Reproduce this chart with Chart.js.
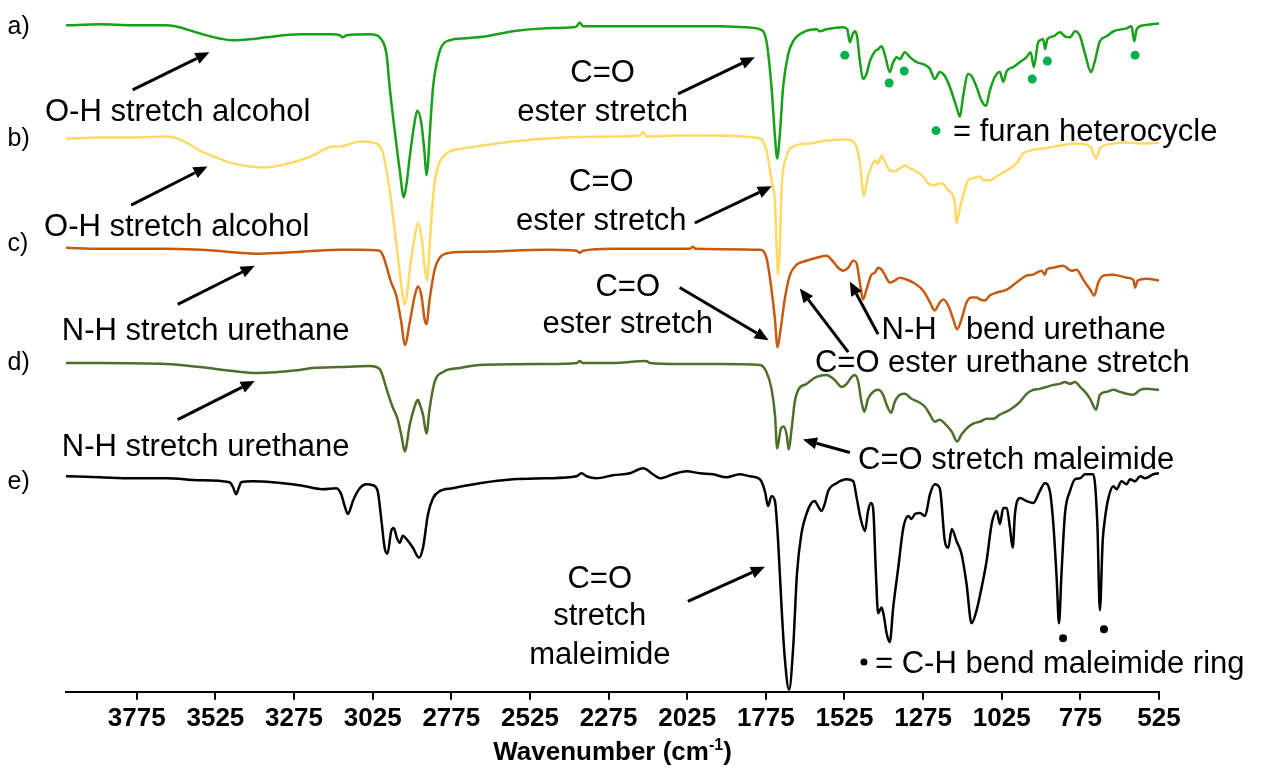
<!DOCTYPE html>
<html>
<head>
<meta charset="utf-8">
<script src="https://cdn.jsdelivr.net/npm/chart.js@4.4.0/dist/chart.umd.min.js"></script>
<style>
  html, body { margin: 0; padding: 0; background: #fff; }
  #wrap { width: 1270px; height: 774px; }
</style>
</head>
<body>
<div id="wrap"><canvas id="chart" width="1270" height="774"></canvas></div>
<script>
// FTIR spectra, stacked with offsets. x = wavenumber (cm-1), y = offset transmittance (a.u.)
const tickValues = [3775, 3525, 3275, 3025, 2775, 2525, 2275, 2025, 1775, 1525, 1275, 1025, 775, 525];

// a) furan alcohol (green)
const traceA = [[4000,671],[3893,672],[3788,671],[3680,671],[3639,669],[3597,665],[3543,660],[3470,656],[3416,657],[3362,659],
  [3257,662],[3152,662],[3130,661],[3120,659],[3108,661],[3035,662],[3012,661],[3003,659],[2981,642],[2971,609],
  [2955,565],[2939,525],[2926,498],[2917,512],[2907,539],[2891,575],[2883,585],[2870,572],[2860,542],[2854,520],
  [2849,532],[2844,559],[2833,609],[2822,632],[2807,649],[2780,656],[2727,658],[2663,660],[2580,665],[2473,668],
  [2388,669],[2376,670],[2367,674],[2356,670],[2262,670],[2144,670],[2049,670],[1921,670],[1836,669],[1794,667],
  [1773,655],[1757,609],[1746,559],[1739,537],[1731,559],[1720,609],[1704,642],[1688,655],[1656,664],[1614,667],
  [1603,665],[1582,667],[1529,669],[1516,667],[1508,654],[1499,662],[1492,665],[1485,660],[1476,635],[1466,617],
  [1455,622],[1444,635],[1428,645],[1418,647],[1407,650],[1397,642],[1381,624],[1370,634],[1359,639],[1349,637],
  [1333,644],[1317,639],[1296,634],[1275,632],[1253,627],[1238,617],[1222,624],[1206,620],[1190,609],[1169,589],
  [1158,579],[1148,599],[1132,622],[1121,620],[1105,609],[1089,595],[1075,590],[1063,605],[1047,619],[1031,624],
  [1020,614],[1009,625],[988,629],[967,634],[946,639],[933,644],[923,629],[909,654],[893,657],[887,647],
  [880,657],[861,660],[840,664],[824,660],[808,659],[792,665],[776,660],[760,642],[741,624],[729,635],
  [713,655],[691,660],[670,665],[628,668],[612,670],[604,655],[596,667],[575,671],[525,673]];

// b) (yellow)
const traceB = [[4000,557],[3893,558],[3788,558],[3681,559],[3629,555],[3575,545],[3522,538],[3469,532],[3416,529],[3363,528],
  [3321,530],[3257,535],[3215,540],[3151,549],[3130,549],[3066,554],[3013,552],[2992,542],[2971,505],[2955,465],
  [2945,439],[2934,409],[2923,390],[2915,402],[2907,425],[2891,459],[2881,472],[2870,459],[2860,429],[2852,414],
  [2842,459],[2831,505],[2817,529],[2791,542],[2738,547],[2632,552],[2473,557],[2261,559],[2176,560],[2165,564],
  [2155,559],[2049,560],[1943,560],[1794,557],[1773,545],[1757,515],[1746,492],[1740,442],[1736,420],[1731,442],
  [1725,505],[1709,539],[1688,549],[1635,552],[1582,555],[1518,556],[1487,549],[1476,532],[1463,499],[1453,515],
  [1439,529],[1428,535],[1418,532],[1407,540],[1397,534],[1381,525],[1365,524],[1349,527],[1333,530],[1317,527],
  [1296,524],[1275,519],[1259,512],[1243,510],[1216,512],[1195,505],[1174,492],[1169,472],[1158,487],[1148,499],
  [1132,515],[1116,517],[1094,519],[1084,515],[1063,515],[1041,519],[1009,525],[978,532],[957,542],[935,545],
  [893,547],[840,550],[787,552],[744,549],[725,537],[713,547],[670,552],[628,553],[575,552],[525,553]];

// c) (orange)
const traceC = [[4000,447],[3893,446],[3681,446],[3522,444],[3448,442],[3395,441],[3310,442],[3130,445],[3066,445],[3003,444],
  [2992,439],[2966,412],[2950,399],[2934,372],[2923,349],[2907,372],[2891,399],[2881,408],[2870,399],[2860,375],
  [2854,370],[2844,395],[2828,425],[2812,437],[2780,442],[2685,443],[2473,445],[2376,444],[2367,442],[2357,444],
  [2262,446],[2144,446],[2017,446],[2007,448],[1998,446],[1794,445],[1773,437],[1757,405],[1746,375],[1738,347],
  [1728,365],[1715,395],[1699,419],[1677,430],[1646,434],[1614,437],[1582,439],[1566,435],[1545,427],[1529,424],
  [1513,427],[1497,434],[1487,432],[1476,412],[1466,395],[1455,405],[1439,420],[1428,422],[1418,427],[1407,425],
  [1397,420],[1381,412],[1365,414],[1349,417],[1327,415],[1306,412],[1275,404],[1253,392],[1238,384],[1222,392],
  [1211,395],[1195,389],[1179,375],[1167,365],[1153,375],[1137,392],[1121,397],[1105,397],[1094,395],[1078,394],
  [1063,399],[1041,402],[1009,405],[978,412],[946,419],[925,420],[914,422],[898,424],[888,420],[882,425],
  [861,427],[830,429],[803,424],[787,425],[766,415],[744,405],[731,399],[718,412],[702,419],[670,420],
  [628,417],[607,415],[601,407],[593,414],[564,416],[525,414]];

// d) (dark green)
const traceD = [[4000,331],[3893,331],[3681,330],[3575,327],[3469,323],[3395,321],[3257,324],[3215,326],[3130,327],[3035,328],
  [3003,325],[2978,302],[2962,287],[2946,275],[2933,257],[2923,242],[2907,269],[2886,292],[2881,294],[2876,290],
  [2865,279],[2854,260],[2844,285],[2828,312],[2801,322],[2748,326],[2685,329],[2473,330],[2376,331],[2367,333],
  [2357,331],[2261,331],[2155,333],[2144,331],[2049,330],[1921,330],[1794,329],[1773,322],[1757,305],[1746,279],
  [1739,245],[1728,264],[1718,267],[1709,259],[1702,244],[1693,265],[1683,292],[1672,304],[1646,310],[1614,317],
  [1582,319],[1556,314],[1534,307],[1518,310],[1502,317],[1492,319],[1481,312],[1471,292],[1462,282],[1450,295],
  [1434,302],[1418,304],[1402,299],[1391,289],[1377,281],[1365,292],[1349,299],[1333,300],[1312,295],[1291,292],
  [1269,287],[1253,279],[1238,272],[1222,274],[1206,270],[1184,262],[1167,252],[1153,259],[1137,265],[1116,270],
  [1094,272],[1073,275],[1052,275],[1031,279],[999,284],[967,292],[946,300],[925,304],[904,305],[882,307],
  [861,309],[840,310],[824,312],[808,310],[792,312],[776,307],[760,302],[744,295],[725,284],[713,299],
  [691,302],[670,304],[649,302],[628,300],[607,299],[585,304],[564,305],[525,304]];

// e) maleimide (black)
const traceE = [[4000,217],[3893,216],[3788,215],[3681,215],[3575,213],[3480,211],[3469,206],[3459,199],[3450,206],[3443,211],
  [3406,212],[3257,208],[3184,204],[3141,205],[3125,199],[3114,187],[3104,179],[3095,185],[3088,192],[3066,205],
  [3045,209],[3024,208],[3009,202],[2997,172],[2987,145],[2978,139],[2966,162],[2958,165],[2948,155],[2939,150],
  [2929,157],[2918,154],[2897,145],[2878,135],[2865,145],[2849,179],[2833,195],[2812,202],[2770,205],[2685,210],
  [2579,214],[2473,215],[2377,217],[2361,220],[2345,217],[2314,215],[2261,218],[2207,220],[2165,225],[2134,219],
  [2112,215],[2070,219],[2027,222],[1985,220],[1943,219],[1900,216],[1858,219],[1826,217],[1794,214],[1778,202],
  [1768,187],[1757,197],[1746,192],[1736,152],[1725,85],[1715,35],[1701,2],[1688,45],[1676,119],[1662,159],
  [1646,179],[1630,190],[1619,192],[1609,187],[1598,182],[1587,190],[1577,202],[1550,210],[1518,214],[1497,212],
  [1486,195],[1474,175],[1460,162],[1450,182],[1441,190],[1434,185],[1425,119],[1418,79],[1407,85],[1399,75],
  [1391,59],[1381,50],[1370,85],[1354,125],[1338,165],[1322,177],[1312,174],[1301,179],[1285,180],[1269,177],
  [1253,199],[1238,209],[1222,205],[1206,152],[1195,145],[1184,164],[1169,152],[1153,139],[1137,109],[1121,69],
  [1105,82],[1089,105],[1073,132],[1057,169],[1041,182],[1031,169],[1020,185],[1009,185],[999,165],[990,145],
  [983,179],[967,195],[946,192],[925,190],[904,202],[888,210],[872,202],[861,169],[850,112],[843,69],
  [835,119],[824,179],[808,202],[792,214],[776,215],[760,219],[734,219],[721,169],[713,82],[704,152],
  [697,174],[686,195],[670,207],[660,204],[644,212],[628,209],[617,214],[601,212],[585,217],[569,215],
  [543,219],[525,220]];

// marker dots
const furanPeaks = [[1524,641],[1383,613],[1335,625],[928,617],[880,635],[601,641]];
const maleimideRingPeaks = [[830,54],[700,63]];

// annotations (placed in data coordinates)
const FONT = '"Liberation Sans", Arial, sans-serif';
const noteTexts = [
  { text: 'a)', x: 4186, y: 662, size: 25 },
  { text: 'b)', x: 4186, y: 550, size: 25 },
  { text: 'c)', x: 4186, y: 444, size: 25 },
  { text: 'd)', x: 4186, y: 324, size: 25 },
  { text: 'e)', x: 4186, y: 204, size: 25 },
  { text: 'O-H stretch alcohol', x: 3645, y: 575, align: 'center' },
  { text: 'O-H stretch alcohol', x: 3648, y: 459, align: 'center' },
  { text: 'N-H stretch urethane', x: 3556, y: 354, align: 'center' },
  { text: 'N-H stretch urethane', x: 3556, y: 237, align: 'center' },
  { text: 'C=O', x: 2294, y: 614, align: 'center' },
  { text: 'ester stretch', x: 2294, y: 575, align: 'center' },
  { text: 'C=O', x: 2298, y: 504, align: 'center' },
  { text: 'ester stretch', x: 2298, y: 465, align: 'center' },
  { text: 'C=O', x: 2214, y: 399, align: 'center' },
  { text: 'ester stretch', x: 2214, y: 361, align: 'center' },
  { text: 'C=O ester urethane stretch', x: 1619, y: 322 },
  { text: 'N-H', x: 1407, y: 355 },
  { text: 'bend urethane', x: 1139, y: 355 },
  { text: 'C=O stretch maleimide', x: 1482, y: 224 },
  { text: 'C=O', x: 2303, y: 105, align: 'center' },
  { text: 'stretch', x: 2303, y: 67, align: 'center' },
  { text: 'maleimide', x: 2303, y: 28, align: 'center' },
  { text: '= furan heterocycle', x: 1180, y: 555 },
  { text: '= C-H bend maleimide ring', x: 1428, y: 19 }
];
const noteArrows = [
  [[3788,606],[3544,644]],
  [[3793,490],[3550,529]],
  [[3645,390],[3400,429]],
  [[3645,274],[3400,313]],
  [[2054,602],[1810,639]],
  [[2001,472],[1756,509]],
  [[2049,407],[1766,354]],
  [[1513,342],[1667,406]],
  [[1418,360],[1508,413]],
  [[1508,241],[1657,254]],
  [[2023,91],[1778,126]]
];
const keyDots = [
  { x: 1234, y: 565, r: 4.5, color: '#00b050' },
  { x: 1463, y: 30, r: 3.5, color: '#000' }
];

function drawArrow(ctx, x1, y1, x2, y2) {
  const ang = Math.atan2(y2 - y1, x2 - x1);
  const len = 14, half = 6;
  const bx = x2 - len * Math.cos(ang), by = y2 - len * Math.sin(ang);
  ctx.beginPath();
  ctx.moveTo(x1, y1);
  ctx.lineTo(bx, by);
  ctx.lineWidth = 3;
  ctx.strokeStyle = '#000';
  ctx.stroke();
  ctx.beginPath();
  ctx.moveTo(x2, y2);
  ctx.lineTo(bx + half * Math.sin(ang), by - half * Math.cos(ang));
  ctx.lineTo(bx - half * Math.sin(ang), by + half * Math.cos(ang));
  ctx.closePath();
  ctx.fillStyle = '#000';
  ctx.fill();
}

const notesPlugin = {
  id: 'spectraNotes',
  afterDraw(chart) {
    const { ctx, chartArea } = chart;
    const sx = chart.scales.x, sy = chart.scales.y;
    ctx.save();
    ctx.textBaseline = 'alphabetic';
    ctx.fillStyle = '#000';
    noteTexts.forEach(t => {
      ctx.font = (t.size || 31) + 'px ' + FONT;
      ctx.textAlign = t.align || 'left';
      ctx.fillStyle = '#000';
      ctx.fillText(t.text, sx.getPixelForValue(t.x), sy.getPixelForValue(t.y));
    });
    noteArrows.forEach(a => drawArrow(ctx,
      sx.getPixelForValue(a[0][0]), sy.getPixelForValue(a[0][1]),
      sx.getPixelForValue(a[1][0]), sy.getPixelForValue(a[1][1])));
    keyDots.forEach(d => {
      ctx.beginPath();
      ctx.arc(sx.getPixelForValue(d.x), sy.getPixelForValue(d.y), d.r, 0, Math.PI * 2);
      ctx.fillStyle = d.color;
      ctx.fill();
    });
    // axis title with superscript
    const main = 'Wavenumber (cm', sup = '-1', tail = ')';
    ctx.fillStyle = '#000';
    ctx.textAlign = 'left';
    ctx.font = 'bold 26px ' + FONT;
    const w1 = ctx.measureText(main).width, w3 = ctx.measureText(tail).width;
    ctx.font = 'bold 16px ' + FONT;
    const w2 = ctx.measureText(sup).width;
    const cx = (chartArea.left + chartArea.right) / 2;
    let x0 = cx - (w1 + w2 + w3) / 2;
    const base = 760;
    ctx.font = 'bold 26px ' + FONT;
    ctx.fillText(main, x0, base);
    ctx.font = 'bold 16px ' + FONT;
    ctx.fillText(sup, x0 + w1, base - 10);
    ctx.font = 'bold 26px ' + FONT;
    ctx.fillText(tail, x0 + w1 + w2, base);
    ctx.restore();
  }
};

const toPoints = arr => arr.map(p => ({ x: p[0], y: p[1] }));
const lineSet = (label, arr, color) => ({
  type: 'line', label, data: toPoints(arr), borderColor: color, borderWidth: 2.5,
  pointRadius: 0, fill: false, cubicInterpolationMode: 'monotone'
});

new Chart(document.getElementById('chart').getContext('2d'), {
  data: {
    datasets: [
      lineSet('a', traceA, '#19a019'),
      lineSet('b', traceB, '#ffd966'),
      lineSet('c', traceC, '#c55a11'),
      lineSet('d', traceD, '#4e6e2b'),
      lineSet('e', traceE, '#000000'),
      { type: 'scatter', label: 'furan', data: toPoints(furanPeaks), pointRadius: 4.5,
        backgroundColor: '#00b050', borderWidth: 0 },
      { type: 'scatter', label: 'maleimide ring', data: toPoints(maleimideRingPeaks), pointRadius: 4,
        backgroundColor: '#000', borderWidth: 0 }
    ]
  },
  options: {
    responsive: false,
    animation: false,
    devicePixelRatio: 1,
    layout: { padding: { left: 66, right: 111, top: 0, bottom: 37 } },
    plugins: { legend: { display: false }, tooltip: { enabled: false } },
    scales: {
      x: {
        type: 'linear', reverse: true, min: 525, max: 4000,
        afterBuildTicks: axis => { axis.ticks = tickValues.map(v => ({ value: v })); },
        ticks: {
          autoSkip: false, maxRotation: 0, padding: 3, color: '#000',
          font: { family: FONT, size: 26, weight: 'bold' },
          callback: v => String(v)
        },
        grid: { drawOnChartArea: false, drawTicks: true, tickLength: 8, color: '#000', lineWidth: 2 },
        border: { display: true, color: '#000', width: 2 }
      },
      y: { display: false, min: 0, max: 692 }
    }
  },
  plugins: [notesPlugin]
});
</script>
</body>
</html>
